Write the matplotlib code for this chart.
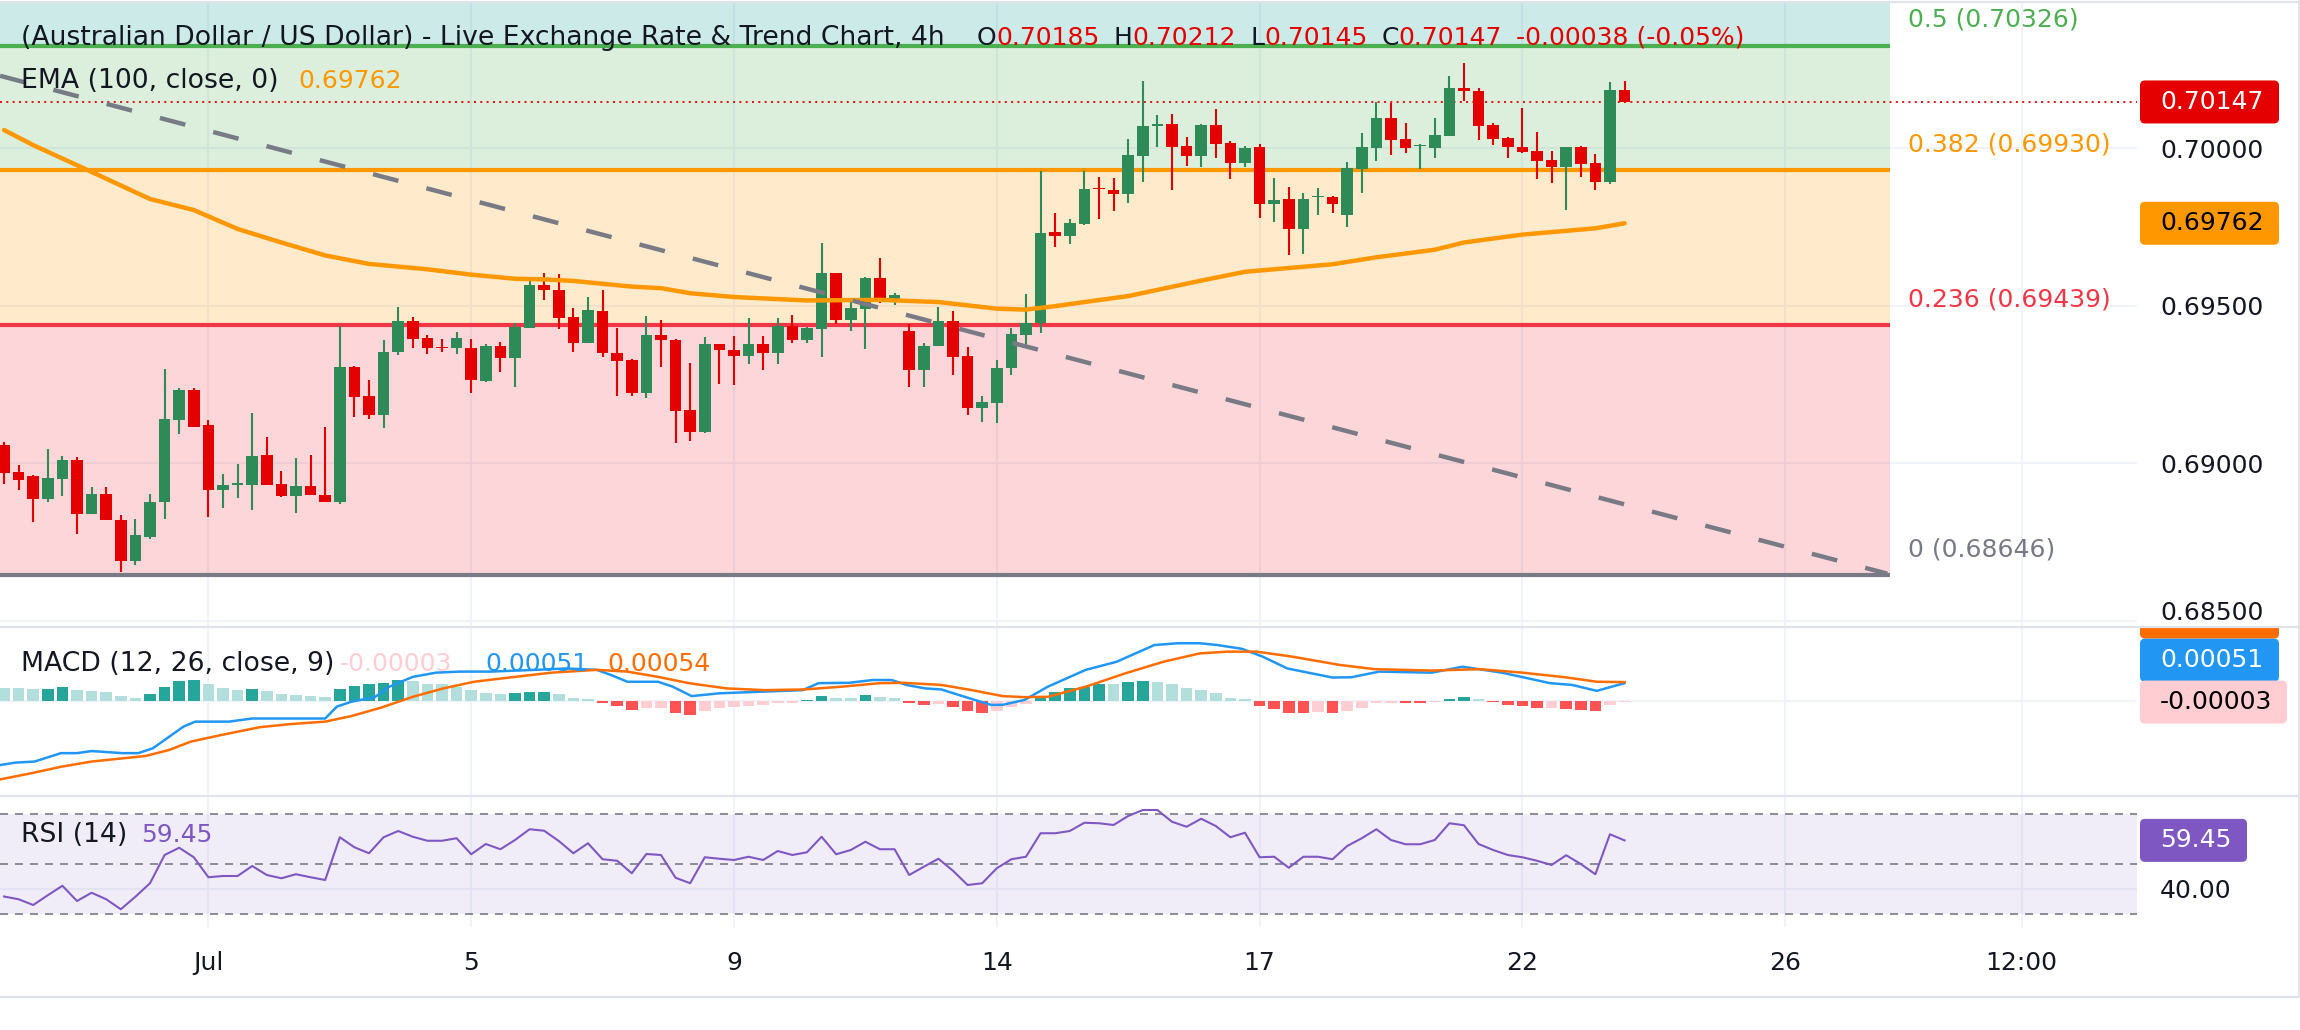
import matplotlib
matplotlib.use("Agg")
import matplotlib.pyplot as plt
import numpy as np
from matplotlib.patches import FancyBboxPatch, Rectangle

# ── Canvas ───────────────────────────────────────────────────────
W, H = 2300, 1030
FS = 18
FS_LEG = 19.2
DARK = "#131722"
GREY = "#787b86"
GRID = "#f0f3fa"
GREEN = "#2e8b57"
RED = "#e50000"

# ── Data: 4h candles (AUD/USD) ───────────────────────────────────
opens = [
    0.69058, 0.68972, 0.68961, 0.68887, 0.68952, 0.69010, 0.68841, 0.68902, 0.68820, 0.68689,
    0.68767, 0.68876, 0.69139, 0.69233, 0.69122, 0.68915, 0.68933, 0.68933, 0.69026, 0.68934,
    0.68898, 0.68929, 0.68900, 0.68876, 0.69306, 0.69214, 0.69152, 0.69352, 0.69453, 0.69398,
    0.69370, 0.69367, 0.69366, 0.69263, 0.69373, 0.69336, 0.69431, 0.69566, 0.69551, 0.69463,
    0.69381, 0.69484, 0.69351, 0.69328, 0.69222, 0.69408, 0.69391, 0.69170, 0.69101, 0.69379,
    0.69360, 0.69342, 0.69379, 0.69349, 0.69436, 0.69391, 0.69427, 0.69604, 0.69454, 0.69490,
    0.69588, 0.69523, 0.69421, 0.69297, 0.69373, 0.69453, 0.69341, 0.69177, 0.69193, 0.69303,
    0.69409, 0.69446, 0.69733, 0.69722, 0.69761, 0.69874, 0.69868, 0.69856, 0.69977, 0.70070,
    0.70078, 0.70008, 0.69974, 0.70074, 0.70016, 0.69954, 0.70004, 0.69824, 0.69839, 0.69745,
    0.69845, 0.69846, 0.69787, 0.69935, 0.70001, 0.70096, 0.70029, 0.70006, 0.70002, 0.70040,
    0.70191, 0.70181, 0.70074, 0.70033, 0.70003, 0.69991, 0.69963, 0.69942, 0.70004, 0.69953,
    0.69894, 0.70185,
]
highs = [
    0.69067, 0.68994, 0.68963, 0.69046, 0.69024, 0.69020, 0.68926, 0.68926, 0.68837, 0.68823,
    0.68902, 0.69300, 0.69238, 0.69240, 0.69137, 0.68966, 0.68998, 0.69160, 0.69085, 0.68976,
    0.69018, 0.69028, 0.69116, 0.69435, 0.69309, 0.69265, 0.69391, 0.69496, 0.69465, 0.69406,
    0.69394, 0.69418, 0.69395, 0.69378, 0.69386, 0.69446, 0.69591, 0.69604, 0.69601, 0.69493,
    0.69528, 0.69551, 0.69430, 0.69331, 0.69468, 0.69456, 0.69394, 0.69319, 0.69401, 0.69379,
    0.69405, 0.69461, 0.69405, 0.69461, 0.69471, 0.69434, 0.69699, 0.69604, 0.69525, 0.69591,
    0.69653, 0.69542, 0.69441, 0.69381, 0.69496, 0.69484, 0.69370, 0.69214, 0.69328, 0.69430,
    0.69538, 0.69927, 0.69795, 0.69776, 0.69927, 0.69909, 0.69906, 0.70029, 0.70214, 0.70106,
    0.70109, 0.70036, 0.70078, 0.70124, 0.70023, 0.70008, 0.70014, 0.69906, 0.69878, 0.69858,
    0.69874, 0.69849, 0.69956, 0.70049, 0.70147, 0.70144, 0.70081, 0.70013, 0.70096, 0.70229,
    0.70271, 0.70191, 0.70081, 0.70036, 0.70128, 0.70051, 0.69991, 0.70003, 0.70008, 0.69982,
    0.70211, 0.70212,
]
lows = [
    0.68936, 0.68915, 0.68813, 0.68879, 0.68895, 0.68777, 0.68838, 0.68819, 0.68655, 0.68679,
    0.68759, 0.68822, 0.69092, 0.69117, 0.68831, 0.68857, 0.68889, 0.68852, 0.68931, 0.68892,
    0.68843, 0.68901, 0.68876, 0.68870, 0.69146, 0.69140, 0.69111, 0.69343, 0.69367, 0.69346,
    0.69352, 0.69346, 0.69222, 0.69257, 0.69289, 0.69241, 0.69431, 0.69517, 0.69427, 0.69352,
    0.69381, 0.69339, 0.69214, 0.69214, 0.69206, 0.69307, 0.69066, 0.69072, 0.69098, 0.69253,
    0.69249, 0.69316, 0.69297, 0.69314, 0.69381, 0.69381, 0.69339, 0.69441, 0.69419, 0.69364,
    0.69509, 0.69504, 0.69244, 0.69241, 0.69373, 0.69279, 0.69152, 0.69132, 0.69129, 0.69279,
    0.69370, 0.69413, 0.69687, 0.69697, 0.69757, 0.69777, 0.69802, 0.69826, 0.69894, 0.70005,
    0.69866, 0.69945, 0.69942, 0.69968, 0.69904, 0.69942, 0.69780, 0.69767, 0.69662, 0.69666,
    0.69789, 0.69796, 0.69749, 0.69859, 0.69961, 0.69980, 0.69984, 0.69935, 0.69970, 0.70040,
    0.70149, 0.70027, 0.70009, 0.69970, 0.69986, 0.69901, 0.69891, 0.69805, 0.69910, 0.69869,
    0.69886, 0.70145,
]
closes = [
    0.68971, 0.68946, 0.68887, 0.68955, 0.69010, 0.68838, 0.68902, 0.68819, 0.68689, 0.68772,
    0.68877, 0.69141, 0.69233, 0.69117, 0.68915, 0.68931, 0.68938, 0.69023, 0.68933, 0.68898,
    0.68929, 0.68901, 0.68876, 0.69306, 0.69212, 0.69155, 0.69354, 0.69453, 0.69396, 0.69365,
    0.69365, 0.69398, 0.69264, 0.69372, 0.69336, 0.69433, 0.69566, 0.69549, 0.69462, 0.69381,
    0.69488, 0.69349, 0.69326, 0.69222, 0.69408, 0.69390, 0.69167, 0.69101, 0.69379, 0.69359,
    0.69342, 0.69379, 0.69349, 0.69436, 0.69393, 0.69430, 0.69604, 0.69454, 0.69493, 0.69588,
    0.69526, 0.69535, 0.69297, 0.69373, 0.69453, 0.69339, 0.69177, 0.69195, 0.69303, 0.69411,
    0.69446, 0.69731, 0.69722, 0.69763, 0.69871, 0.69870, 0.69856, 0.69979, 0.70071, 0.70078,
    0.70005, 0.69974, 0.70074, 0.70015, 0.69954, 0.70001, 0.69824, 0.69836, 0.69745, 0.69839,
    0.69849, 0.69824, 0.69938, 0.70004, 0.70096, 0.70027, 0.70000, 0.70010, 0.70041, 0.70191,
    0.70181, 0.70072, 0.70031, 0.70003, 0.69989, 0.69961, 0.69942, 0.70003, 0.69951, 0.69894,
    0.70185, 0.70147,
]

# EMA(100) at sample bars
ema_x = [0, 2, 6, 10, 13, 16, 19, 22, 25, 29, 32, 35, 37, 39, 43, 45, 47, 50, 55, 60,
         64, 68, 70, 72, 74, 77, 82, 85, 91, 94, 98, 100, 104, 109, 111]
ema_y = [0.70058, 0.70010, 0.69925, 0.69839, 0.69804, 0.69744, 0.69701, 0.69660, 0.69633,
         0.69616, 0.69599, 0.69586, 0.69584, 0.69579, 0.69561, 0.69556, 0.69540, 0.69528,
         0.69517, 0.69519, 0.69512, 0.69491, 0.69488, 0.69499, 0.69512, 0.69531, 0.69580,
         0.69608, 0.69632, 0.69654, 0.69678, 0.69701, 0.69726, 0.69746, 0.69762]

# Fibonacci retracement levels
fib_names = ["0", "0.236", "0.382", "0.5", "0.618"]
fib_prices = [0.68646, 0.69439, 0.69930, 0.70326, 0.70722]
fib_colors = [GREY, "#f23645", "#ff9800", "#4caf50", "#009688"]

# Descending trendline anchors (bar index, price)
trend_x = [-0.27, 129.0]
trend_y = [0.70230, 0.68650]

# MACD (12, 26, 9)
macd_x = [-0.27, 0.8, 2.1, 3.9, 5.0, 6.0, 8.1, 9.2, 10.2, 12.3, 13.1, 15.4, 17.0, 22.0, 22.8,
          23.8, 25.4, 26.4, 28.0, 29.6, 31.2, 33.3, 36.4, 38.5, 40.6, 41.6, 42.7, 44.8, 45.8,
          47.1, 49.0, 52.1, 54.7, 55.8, 57.9, 59.5, 60.8, 61.8, 63.1, 64.2, 65.8, 67.6, 68.4,
          69.9, 71.5, 74.1, 76.2, 78.8, 80.4, 81.9, 83.1, 84.8, 86.2, 87.9, 91.0, 92.3, 94.2,
          97.8, 99.9, 102.6, 105.9, 107.4, 109.1, 110.3, 111.0]
macd_v = [-0.00183, -0.00176, -0.00173, -0.00149, -0.00149, -0.00143, -0.00149, -0.00149,
          -0.00135, -0.00073, -0.00059, -0.00059, -0.00050, -0.00050, -0.00016, -0.00002,
          0.00011, 0.00041, 0.00069, 0.00081, 0.00084, 0.00084, 0.00089, 0.00093, 0.00089,
          0.00074, 0.00055, 0.00055, 0.00041, 0.00014, 0.00022, 0.00027, 0.00031, 0.00051,
          0.00052, 0.00060, 0.00060, 0.00046, 0.00036, 0.00033, 0.00012, -0.00011, -0.00011,
          0.00003, 0.00041, 0.00089, 0.00112, 0.00160, 0.00165, 0.00165, 0.00160, 0.00149,
          0.00127, 0.00093, 0.00067, 0.00068, 0.00084, 0.00081, 0.00098, 0.00081, 0.00051,
          0.00046, 0.00029, 0.00043, 0.00051]
sig_x = [-0.27, 1.8, 3.9, 6.0, 8.1, 9.7, 11.3, 12.8, 14.9, 17.5, 19.6, 22.0, 23.8, 25.9, 28.0,
         30.1, 32.2, 34.8, 37.5, 40.6, 42.7, 44.8, 46.9, 49.5, 52.1, 54.8, 57.4, 60.0, 61.6,
         64.2, 66.3, 68.4, 69.9, 71.5, 74.1, 76.8, 79.4, 81.9, 83.8, 85.8, 88.2, 91.5, 93.9,
         97.8, 101.1, 104.0, 106.9, 109.1, 111.0]
sig_v = [-0.00224, -0.00207, -0.00188, -0.00173, -0.00164, -0.00157, -0.00140, -0.00116,
         -0.00097, -0.00075, -0.00066, -0.00059, -0.00043, -0.00018, 0.00012, 0.00036,
         0.00055, 0.00068, 0.00081, 0.00089, 0.00084, 0.00069, 0.00051, 0.00036, 0.00031,
         0.00033, 0.00041, 0.00051, 0.00052, 0.00046, 0.00031, 0.00014, 0.00011, 0.00012,
         0.00041, 0.00079, 0.00112, 0.00136, 0.00141, 0.00141, 0.00127, 0.00103, 0.00091,
         0.00087, 0.00091, 0.00081, 0.00068, 0.00055, 0.00054]
hist = [
    0.00038, 0.00036, 0.00033, 0.00035, 0.00039, 0.00031, 0.00030, 0.00026, 0.00014, 0.00010,
    0.00020, 0.00039, 0.00057, 0.00060, 0.00050, 0.00036, 0.00031, 0.00034, 0.00030, 0.00020,
    0.00017, 0.00015, 0.00012, 0.00033, 0.00043, 0.00050, 0.00052, 0.00060, 0.00057, 0.00050,
    0.00049, 0.00041, 0.00031, 0.00022, 0.00020, 0.00022, 0.00025, 0.00026, 0.00020, 0.00009,
    0.00007, -0.00007, -0.00013, -0.00026, -0.00021, -0.00020, -0.00033, -0.00040, -0.00028, -0.00021,
    -0.00016, -0.00013, -0.00011, -0.00007, -0.00005, 0.00003, 0.00014, 0.00010, 0.00009, 0.00016,
    0.00012, 0.00008, -0.00007, -0.00010, -0.00009, -0.00016, -0.00028, -0.00033, -0.00029, -0.00016,
    -0.00009, 0.00014, 0.00027, 0.00036, 0.00041, 0.00050, 0.00049, 0.00055, 0.00057, 0.00054,
    0.00049, 0.00036, 0.00031, 0.00024, 0.00010, 0.00005, -0.00014, -0.00024, -0.00033, -0.00034,
    -0.00032, -0.00034, -0.00028, -0.00019, -0.00007, -0.00005, -0.00006, -0.00007, -0.00003, 0.00005,
    0.00011, 0.00006, -0.00002, -0.00010, -0.00014, -0.00021, -0.00020, -0.00024, -0.00025, -0.00028,
    -0.00011, -0.00003,
]

# RSI (14)
rsi = [
    37.0, 35.9, 33.6, 37.5, 41.3, 35.2, 38.5, 35.9, 31.9, 36.9,
    42.3, 53.6, 56.5, 52.7, 44.7, 45.2, 45.2, 49.2, 45.6, 44.3,
    45.9, 44.7, 43.6, 60.7, 56.7, 54.3, 60.7, 63.2, 60.9, 59.3,
    59.3, 60.3, 53.9, 58.0, 55.9, 59.6, 63.9, 63.3, 59.2, 54.3,
    58.3, 51.9, 51.3, 46.3, 54.0, 53.6, 44.5, 42.3, 52.7, 52.1,
    51.6, 52.9, 51.6, 55.2, 53.6, 54.7, 60.9, 53.9, 55.6, 58.9,
    55.9, 55.9, 45.6, 48.9, 52.1, 47.3, 41.6, 42.3, 48.3, 51.9,
    52.9, 62.3, 62.3, 63.2, 66.5, 66.3, 65.6, 69.2, 71.6, 71.6,
    66.9, 64.9, 68.1, 65.2, 60.7, 62.5, 52.7, 52.9, 48.5, 52.9,
    52.9, 51.9, 57.2, 60.3, 63.9, 59.6, 57.9, 57.9, 59.6, 66.3,
    65.5, 58.0, 55.6, 53.6, 52.7, 51.3, 49.6, 53.5, 50.0, 45.9,
    61.9, 59.45,
]

# Time axis
tick_pos = [14, 32, 50, 68, 86, 104, 122, 138.2]
tick_labels = ["Jul", "5", "9", "14", "17", "22", "26", "12:00"]
price_ticks = [0.685, 0.690, 0.695, 0.700]

X_MIN, X_MAX = -0.274, 146.1
FIB_X0, FIB_X1, FIB_LABEL_X = -1.0, 129.2, 130.4

# ── Figure / panes (pixel layout) ────────────────────────────────
fig = plt.figure(figsize=(W / 100, H / 100), dpi=100, facecolor="white")


def px_axes(x0, y0, x1, y1):
    return fig.add_axes([x0 / W, 1 - y1 / H, (x1 - x0) / W, (y1 - y0) / H])


ax = px_axes(0, 3, 2137, 626)
axm = px_axes(0, 628, 2137, 795)
axr = px_axes(0, 797, 2137, 927)

for a in (ax, axm, axr):
    a.set_xlim(X_MIN, X_MAX)
    for s in a.spines.values():
        s.set_visible(False)
    a.set_xticks(tick_pos)
    a.tick_params(axis="x", length=0, labelbottom=False)
    a.set_axisbelow(True)
    a.grid(True, color=GRID, lw=1.5)

bars = np.arange(len(closes))

# ── Main pane ────────────────────────────────────────────────────
ax.set_ylim(0.68484, 0.70461)
ax.yaxis.tick_right()
ax.set_yticks(price_ticks)
# lowest label sits on the pane edge; it is drawn separately a bit higher
ax.set_yticklabels([""] + [f"{v:.5f}" for v in price_ticks[1:]])
ax.tick_params(axis="y", length=0, pad=16.5, labelsize=FS, labelcolor=DARK)

for i in range(len(fib_prices) - 1):
    ax.fill_between([FIB_X0, FIB_X1], fib_prices[i], fib_prices[i + 1],
                    color=fib_colors[i + 1], alpha=0.2, lw=0, zorder=1)
for name, p, col in zip(fib_names, fib_prices, fib_colors):
    ax.hlines(p, FIB_X0, FIB_X1, color=col, lw=3, zorder=3)
    ax.annotate(f"{name} ({p:.5f})", xy=(FIB_LABEL_X, p), xytext=(0, 18.4),
                textcoords="offset points", color=col, fontsize=FS,
                va="center", ha="left")

ax.axhline(closes[-1], color=RED, lw=1.3, dashes=(1.1, 2.4), zorder=3.5)

o = np.array(opens)
c = np.array(closes)
cols = np.where(c >= o, GREEN, RED)
ax.vlines(bars, lows, highs, colors=cols, lw=1.5, zorder=4)
ax.bar(bars, np.maximum(np.abs(c - o), 0.00003), bottom=np.minimum(o, c),
       width=0.8, color=cols, lw=0, zorder=4)

ax.plot(ema_x, ema_y, color="#ff9800", lw=3.2, zorder=5,
        solid_capstyle="round", solid_joinstyle="round")
ax.plot(trend_x, trend_y, color=GREY, lw=3.2, dashes=(5.9, 6.5), zorder=6)

# ── MACD pane ────────────────────────────────────────────────────
axm.set_ylim(-0.002686, 0.002086)
axm.set_yticks([0])
axm.tick_params(axis="y", length=0, labelleft=False, labelright=False)
hcols = []
for i, v in enumerate(hist):
    prev = hist[i - 1] if i > 0 else v + 1e-6
    if v >= 0:
        hcols.append("#26a69a" if v > prev else "#b2dfdb")
    else:
        hcols.append("#ff5252" if v < prev else "#ffcdd2")
axm.bar(bars, hist, width=0.8, color=hcols, lw=0, zorder=2)
axm.plot(macd_x, macd_v, color="#2196f3", lw=1.8, zorder=3)
axm.plot(sig_x, sig_v, color="#ff6d00", lw=1.8, zorder=3)

# ── RSI pane ─────────────────────────────────────────────────────
axr.set_ylim(24.8, 76.8)
axr.axhspan(30, 70, color="#7e57c2", alpha=0.1, lw=0, zorder=0.6)
for lvl in (30, 50, 70):
    axr.axhline(lvl, color=GREY, lw=1.2, dashes=(4.8, 4.2), zorder=1)
axr.plot(bars, rsi, color="#7e57c2", lw=1.5, zorder=3)
axr.yaxis.tick_right()
axr.set_yticks([40])
axr.set_yticklabels(["40.00"])
axr.tick_params(axis="y", length=0, pad=16.5, labelsize=FS, labelcolor=DARK)
axr.set_xticks(tick_pos)
axr.set_xticklabels(tick_labels)
axr.tick_params(axis="x", length=0, pad=17, labelbottom=True, labelsize=FS,
                labelcolor=DARK)

# ── Overlay: legends, separators, price boxes ───────────────────
ov = fig.add_axes([0, 0, 1, 1])
ov.set_xlim(0, W)
ov.set_ylim(H, 0)
ov.axis("off")
ov.set_zorder(10)

ov.hlines([1.5, 627, 796, 997], 0, W, color="#e0e3eb", lw=1.6)
ov.vlines(2298.5, 0, 997, color="#e0e3eb", lw=1.2)

renderer = fig.canvas.get_renderer()


def chain(x, y, parts, size=FS, gap=0):
    for txt, col in parts:
        t = ov.text(x, y, txt, color=col, fontsize=size, va="center", ha="left")
        x += t.get_window_extent(renderer=renderer).width + gap
    return x


title = "(Australian Dollar / US Dollar) - Live Exchange Rate & Trend Chart, 4h"
chain(21, 38, [(title, DARK)], size=FS_LEG)
x = 977
for letter, val in [("O", "0.70185"), ("H", "0.70212"), ("L", "0.70145"), ("C", "0.70147")]:
    x = chain(x, 38, [(letter, DARK), (val, RED)]) + 14
chain(x, 38, [("-0.00038 (-0.05%)", RED)])

chain(21, 81, [("EMA (100, close, 0)", DARK)], size=FS_LEG)
chain(298, 81, [("0.69762", "#ff9800")])
chain(21, 664, [("MACD (12, 26, close, 9)", DARK)], size=FS_LEG)
chain(340, 664, [("-0.00003", "#ffcdd2")])
chain(485, 664, [("0.00051", "#2196f3")])
chain(607, 664, [("0.00054", "#ff6d00")])
chain(21, 835, [("RSI (14)", DARK)], size=FS_LEG)
chain(141, 835, [("59.45", "#7e57c2")])


def axis_y(axis, value):
    return H - axis.transData.transform((0, value))[1]


def axis_box(axis, value, text, fc, tc, dy=0, x_right=2279, clip=None):
    y = axis_y(axis, value) + dy
    box = FancyBboxPatch((2140, y - 21.5), x_right - 2140, 43,
                         boxstyle="round,pad=0,rounding_size=5",
                         fc=fc, ec="none")
    ov.add_patch(box)
    if clip is not None:
        box.set_clip_path(clip)
    else:
        ov.text(2160, y, text, color=tc, fontsize=FS, va="center", ha="left")


ov.text(2160, axis_y(ax, price_ticks[0]) - 8, f"{price_ticks[0]:.5f}",
        color=DARK, fontsize=FS, va="center", ha="left")

axis_box(ax, closes[-1], "0.70147", RED, "white")
axis_box(ax, ema_y[-1], "0.69762", "#ff9800", "black")

# signal-line box is pushed up under the pane edge, only a sliver shows
macd_clip = Rectangle((0, 628), W, 167, transform=ov.transData)
axis_box(axm, sig_v[-1], "0.00054", "#ff6d00", "white", dy=-65, clip=macd_clip)
axis_box(axm, macd_v[-1], "0.00051", "#2196f3", "white", dy=-23)
axis_box(axm, hist[-1], "-0.00003", "#ffcdd2", "black", x_right=2287)
axis_box(axr, rsi[-1], "59.45", "#7e57c2", "white", x_right=2247)

fig.savefig("out.png", dpi=100, facecolor="white")
